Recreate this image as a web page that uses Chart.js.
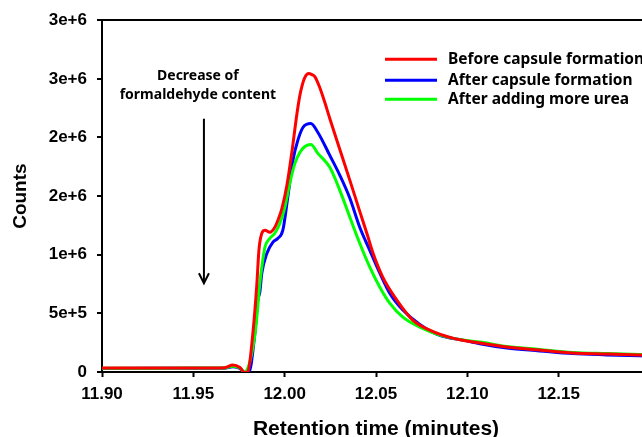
<!DOCTYPE html>
<html>
<head>
<meta charset="utf-8">
<script src="https://cdn.jsdelivr.net/npm/chart.js@4"></script>
<style>
html,body{margin:0;padding:0;background:#fff;overflow:hidden;}
#wrap{width:662px;height:437px;}
</style>
</head>
<body>
<div id="wrap"><canvas id="c" width="662" height="437"></canvas></div>
<script>
// ---- data ----
const seriesLabels = ['Before capsule formation', 'After capsule formation', 'After adding more urea'];

const redTime = [11.900, 11.930, 11.960, 11.967, 11.9717, 11.9755, 11.9782, 11.9799, 11.9826, 11.9848, 11.9859, 11.9875, 11.9892, 11.9919, 11.9946, 11.9963, 11.9985, 12.0012, 12.0039, 12.0067, 12.0083, 12.0094, 12.0110, 12.0132, 12.0149, 12.0165, 12.0192, 12.0220, 12.0247, 12.0302, 12.0357, 12.0411, 12.0455, 12.0482, 12.0537, 12.0614, 12.0701, 12.0794, 12.0920, 12.1068, 12.1216, 12.1396, 12.1577, 12.1763, 12.1943, 12.2000];
const redCounts = [34000, 34000, 35000, 37000, 60000, 38000, -5000, 5000, 332000, 757000, 1038000, 1183000, 1209000, 1191000, 1234000, 1294000, 1396000, 1590000, 1870000, 2200000, 2357000, 2434000, 2511000, 2545000, 2536000, 2519000, 2426000, 2298000, 2162000, 1898000, 1634000, 1370000, 1157000, 1021000, 809000, 613000, 443000, 357000, 289000, 247000, 213000, 187000, 162000, 153000, 145000, 143000];

const blueTime = [11.900, 11.930, 11.960, 11.967, 11.9717, 11.9755, 11.9777, 11.9804, 11.9837, 11.9853, 11.9864, 11.9875, 11.9903, 11.9935, 11.9963, 11.9990, 12.0017, 12.0045, 12.0072, 12.0100, 12.0143, 12.0182, 12.0247, 12.0302, 12.0357, 12.0411, 12.0466, 12.0521, 12.0575, 12.0647, 12.0740, 12.0849, 12.0975, 12.1068, 12.1216, 12.1396, 12.1577, 12.1763, 12.1943, 12.2000];
const blueCounts = [30000, 31000, 32000, 33000, 45000, 30000, -5000, -3000, 332000, 613000, 680000, 843000, 1013000, 1106000, 1140000, 1209000, 1490000, 1804000, 1975000, 2085000, 2119000, 2043000, 1847000, 1677000, 1481000, 1234000, 1038000, 843000, 672000, 528000, 405000, 312000, 272000, 240000, 204000, 180000, 157000, 146000, 138000, 136000];

const greenTime = [11.900, 11.930, 11.960, 11.967, 11.9717, 11.9755, 11.9780, 11.9810, 11.9842, 11.9864, 11.9875, 11.9892, 11.9919, 11.9946, 11.9974, 12.0001, 12.0028, 12.0056, 12.0083, 12.0111, 12.0143, 12.0182, 12.0247, 12.0302, 12.0357, 12.0411, 12.0466, 12.0521, 12.0575, 12.0647, 12.0740, 12.0849, 12.0975, 12.1068, 12.1216, 12.1396, 12.1577, 12.1763, 12.1943, 12.2000];
const greenCounts = [33000, 33000, 34000, 35000, 50000, 34000, -3000, 90000, 380000, 757000, 894000, 1064000, 1140000, 1183000, 1268000, 1404000, 1609000, 1779000, 1872000, 1923000, 1940000, 1864000, 1745000, 1549000, 1319000, 1098000, 894000, 723000, 587000, 468000, 383000, 315000, 272000, 255000, 218000, 192000, 167000, 157000, 149000, 147000];

const yTickLabels = ['0', '5e+5', '1e+6', '2e+6', '2e+6', '3e+6', '3e+6'];
const xAxisTitle = 'Retention time (minutes)';
const yAxisTitle = 'Counts';

const noteLines = ['Decrease of', 'formaldehyde content'];
const noteX = 11.9525;
const noteY = [2520000, 2366000];
const arrowX = 11.9558;
const arrowFrom = 2160000;
const arrowTo = 757000;

// ---- build ----
const toPts = (t, v) => t.map((x, i) => ({x: x, y: v[i]}));
const colors = ['#ff0000', '#0000ff', '#00ff00'];

const overlay = {
  id: 'overlay',
  afterDatasetsDraw(chart) {
    const {ctx, chartArea, scales: {x, y}} = chart;
    ctx.save();
    ctx.fillStyle = '#000';
    ctx.font = 'bold 14px "Noto Sans"';
    ctx.textAlign = 'center';
    ctx.textBaseline = 'middle';
    noteLines.forEach((t, i) => ctx.fillText(t, x.getPixelForValue(noteX), y.getPixelForValue(noteY[i])));
    const ax = x.getPixelForValue(arrowX);
    const y0 = y.getPixelForValue(arrowFrom), y1 = y.getPixelForValue(arrowTo);
    ctx.strokeStyle = '#000';
    ctx.lineWidth = 2;
    ctx.beginPath(); ctx.moveTo(ax, y0); ctx.lineTo(ax, y1 - 1); ctx.stroke();
    ctx.beginPath(); ctx.moveTo(ax - 5, y1 - 10); ctx.lineTo(ax, y1); ctx.lineTo(ax + 5, y1 - 10); ctx.stroke();
    // legend
    const lx0 = chartArea.right - 265, lx1 = chartArea.right - 213, tx = chartArea.right - 202;
    const rows = [39, 60, 79];
    ctx.textAlign = 'left';
    ctx.font = 'bold 15.5px "Noto Sans"';
    chart.data.datasets.forEach((ds, i) => {
      const yy = chartArea.top + rows[i];
      ctx.strokeStyle = ds.borderColor;
      ctx.lineWidth = 3;
      ctx.beginPath(); ctx.moveTo(lx0, yy); ctx.lineTo(lx1, yy); ctx.stroke();
      ctx.fillStyle = '#000';
      ctx.fillText(ds.label, tx, yy);
    });
    ctx.restore();
  }
};

const tickFont = {family: '"Liberation Sans", Arial, sans-serif', weight: 'bold', size: 17};

new Chart(document.getElementById('c'), {
  type: 'line',
  data: {
    datasets: [
      {label: seriesLabels[0], data: toPts(redTime, redCounts), borderColor: colors[0], order: 0},
      {label: seriesLabels[1], data: toPts(blueTime, blueCounts), borderColor: colors[1], order: 2},
      {label: seriesLabels[2], data: toPts(greenTime, greenCounts), borderColor: colors[2], order: 1}
    ]
  },
  options: {
    responsive: false,
    animation: false,
    devicePixelRatio: 1,
    layout: {padding: {top: 19, right: 12, left: 0, bottom: 0}},
    plugins: {legend: {display: false}, tooltip: {enabled: false}},
    elements: {
      point: {radius: 0},
      line: {borderWidth: 3, cubicInterpolationMode: 'monotone', fill: false}
    },
    scales: {
      x: {
        type: 'linear', min: 11.90, max: 12.20,
        afterFit(s) { s.height = 65; },
        border: {color: '#000', width: 2},
        grid: {drawOnChartArea: false, tickLength: 5, tickColor: '#000', tickWidth: 2},
        ticks: {
          stepSize: 0.05, color: '#000', font: tickFont, padding: 7, maxRotation: 0, autoSkip: false,
          callback: v => (v > 12.19 ? '' : v.toFixed(2))
        },
        title: {
          display: true, text: xAxisTitle, color: '#000',
          font: {family: '"Liberation Sans", Arial, sans-serif', weight: 'bold', size: 21, lineHeight: 0.76},
          padding: {top: 0, bottom: 0}
        }
      },
      y: {
        type: 'linear', min: 0, max: 3000000,
        afterFit(s) { s.width = 102; },
        border: {color: '#000', width: 2},
        grid: {
          drawOnChartArea: true, tickLength: 5, tickColor: '#000', tickWidth: 2, lineWidth: 2,
          color: c => (c.tick && c.tick.value === 3000000 ? '#000' : 'rgba(0,0,0,0)')
        },
        ticks: {
          stepSize: 500000, color: '#000', font: tickFont, padding: 10,
          callback: (v, i) => yTickLabels[i]
        },
        title: {
          display: true, text: yAxisTitle, color: '#000',
          font: {family: '"Liberation Sans", Arial, sans-serif', weight: 'bold', size: 19, lineHeight: 0.8},
          padding: {top: 13, bottom: 0}
        }
      }
    }
  },
  plugins: [overlay]
});
</script>
</body>
</html>
